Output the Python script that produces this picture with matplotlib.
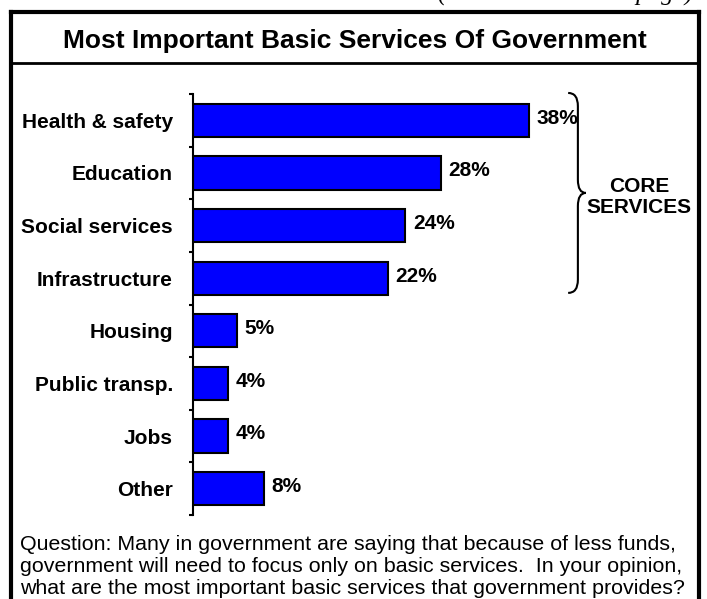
import matplotlib
matplotlib.use('Agg')
import matplotlib.pyplot as plt
from matplotlib.lines import Line2D
from matplotlib.path import Path
from matplotlib.patches import PathPatch

plt.rcParams['font.family'] = ['Liberation Sans', 'DejaVu Sans']

services = ['Health & safety', 'Education', 'Social services', 'Infrastructure',
            'Housing', 'Public transp.', 'Jobs', 'Other']
shares = [38, 28, 24, 22, 5, 4, 4, 8]
title = 'Most Important Basic Services Of Government'
question = ('Question: Many in government are saying that because of less funds,\n'
            'government will need to focus only on basic services.  In your opinion,\n'
            'what are the most important basic services that government provides?')
core_label = 'CORE\nSERVICES'
core_count = 4

W, H = 707, 599
fig = plt.figure(figsize=(W / 100, H / 100), dpi=100)

def fx(px):
    return px / W

def fy(py):
    return 1 - py / H

# page continuation note, mostly cut off at the top edge
fig.text(fx(693), fy(1), '(Continued on next page)', ha='right', va='baseline',
         fontsize=18, style='italic', family='Liberation Serif')

# outer frame and title separator
frame_kw = dict(color='black', transform=fig.transFigure, solid_capstyle='projecting')
fig.add_artist(Line2D([fx(10.5), fx(699)], [fy(11.5), fy(11.5)], lw=3, **frame_kw))
fig.add_artist(Line2D([fx(10.5), fx(10.5)], [fy(11.5), fy(H + 5)], lw=3, **frame_kw))
fig.add_artist(Line2D([fx(699), fx(699)], [fy(11.5), fy(H + 5)], lw=3, **frame_kw))
fig.add_artist(Line2D([fx(10.5), fx(699)], [fy(63), fy(63)], lw=2, **frame_kw))

fig.text(fx(355), fy(41), title, ha='center', va='center',
         fontsize=19, fontweight='bold')

ax = fig.add_axes([fx(193), fy(515), fx(600 - 193), (515 - 94) / H])
pos = list(range(len(services)))
bars = ax.barh(pos, shares, height=0.63, color='#0000FF',
               edgecolor='black', linewidth=1.5)
ax.set_xlim(0, 46)
ax.set_ylim(len(services) - 0.5, -0.5)

for spine in ['top', 'right', 'bottom']:
    ax.spines[spine].set_visible(False)
ax.spines['left'].set_linewidth(1.5)
ax.set_xticks([])
ax.set_yticks(pos)
ax.set_yticklabels(services, fontsize=15, fontweight='bold')
ax.set_yticks([p - 0.5 for p in range(len(services) + 1)], minor=True)
ax.tick_params(axis='y', which='major', length=0, pad=14.5)
ax.tick_params(axis='y', which='minor', length=3, width=1.5, direction='out')
ax.patch.set_alpha(0)

for rect, v in zip(bars, shares):
    ax.annotate(f'{v}%', (rect.get_width(), rect.get_y() + rect.get_height() / 2),
                xytext=(5.5, 1.5), textcoords='offset points', ha='left', va='center',
                fontsize=15, fontweight='bold')

# curly brace grouping the core services
bx = 43.5
top, bot = -0.52, core_count - 0.5 - 0.22
mid = (top + bot) / 2
verts = [(bx - 1.1, top), (bx, top), (bx, top + 0.25), (bx, top + 0.25),
         (bx, mid - 0.25), (bx, mid - 0.25), (bx, mid), (bx + 0.9, mid),
         (bx, mid), (bx, mid + 0.25), (bx, mid + 0.25),
         (bx, bot - 0.25), (bx, bot - 0.25), (bx, bot), (bx - 1.1, bot)]
codes = [Path.MOVETO, Path.CURVE3, Path.CURVE3, Path.LINETO,
         Path.LINETO, Path.LINETO, Path.CURVE3, Path.CURVE3,
         Path.CURVE3, Path.CURVE3, Path.LINETO,
         Path.LINETO, Path.LINETO, Path.CURVE3, Path.CURVE3]
ax.add_patch(PathPatch(Path(verts, codes), fill=False, lw=1.5,
                       edgecolor='black', clip_on=False))
ax.text(50.4, mid + 0.08, core_label, ha='center', va='center', fontsize=15,
        fontweight='bold', linespacing=1.15, clip_on=False)

fig.text(fx(20), fy(567), question, ha='left', va='center', fontsize=15.4,
         linespacing=1.2)

fig.savefig('out.png', dpi=100)
plt.close(fig)
